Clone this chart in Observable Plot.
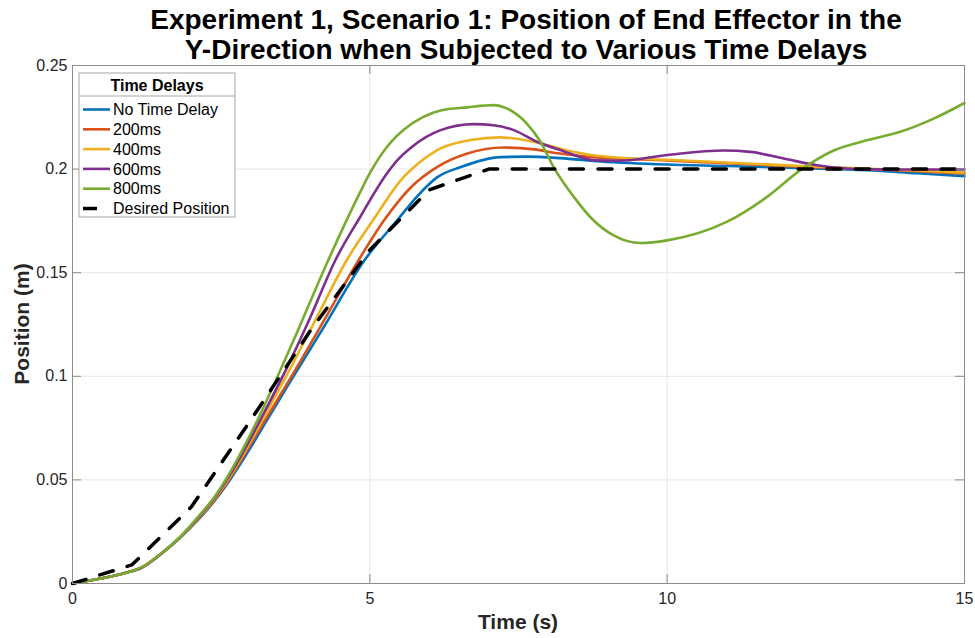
<!DOCTYPE html>
<html>
<head>
<meta charset="utf-8">
<script src="https://cdn.jsdelivr.net/npm/d3@7"></script>
<script src="https://cdn.jsdelivr.net/npm/@observablehq/plot@0.6"></script>
<style>
  body { margin: 0; background: #fff; }
  #chart svg { display: block; }
</style>
</head>
<body>
<div id="chart"></div>
<script>
// End-effector Y position (m) over time (s) for each communication delay.
const titleLines = [
  "Experiment 1, Scenario 1: Position of End Effector in the",
  "Y-Direction when Subjected to Various Time Delays"
];
const xLabel = "Time (s)";
const yLabel = "Position (m)";
const legendTitle = "Time Delays";

const xTicks = [0, 5, 10, 15];
const yTicks = [0, 0.05, 0.1, 0.15, 0.2, 0.25];

const seriesNames = ["No Time Delay", "200ms", "400ms", "600ms", "800ms"];
const seriesColors = ["#0072BD", "#D95319", "#EDB120", "#7E2F8E", "#77AC30"];
const desiredName = "Desired Position";

const tNoDelay = [0, 0.5, 1, 1.15, 1.5, 1.8, 2.1, 2.4, 2.66, 3.0, 3.22, 3.6, 4.2, 4.91, 5.46, 5.8, 6.13, 6.53, 7.2, 7.64, 8.2, 8.88, 10, 11, 12.24, 13.37, 14.2, 15];
const yNoDelay = [0, 0.0025, 0.006, 0.0075, 0.0145, 0.0218, 0.0303, 0.0403, 0.0506, 0.0658, 0.0765, 0.0945, 0.1225, 0.156, 0.1753, 0.187, 0.196, 0.201, 0.2058, 0.206, 0.2053, 0.2037, 0.2022, 0.2015, 0.2005, 0.1995, 0.198, 0.1966];

const t200 = [0, 0.5, 1, 1.15, 1.5, 1.8, 2.1, 2.4, 2.66, 3.0, 3.2, 3.7, 4.3, 4.81, 5.24, 5.7, 6.13, 6.64, 7.25, 7.76, 8.2, 8.76, 10, 11, 12.24, 13.37, 14.2, 15];
const y200 = [0, 0.0025, 0.006, 0.0075, 0.0145, 0.0219, 0.0307, 0.0408, 0.0514, 0.0674, 0.077, 0.1008, 0.1305, 0.156, 0.1753, 0.1915, 0.201, 0.2075, 0.2104, 0.2095, 0.2075, 0.2058, 0.2042, 0.2028, 0.2012, 0.2, 0.199, 0.1978];

const t400 = [0, 0.5, 1, 1.15, 1.5, 1.8, 2.1, 2.4, 2.66, 3.0, 3.2, 3.6, 4.1, 4.61, 5.07, 5.52, 5.85, 6.19, 6.69, 7.2, 7.75, 8.32, 8.76, 9.21, 10, 11, 12.24, 13.37, 14.2, 15];
const y400 = [0, 0.0025, 0.006, 0.0075, 0.0146, 0.022, 0.031, 0.0413, 0.0522, 0.0688, 0.0792, 0.1004, 0.128, 0.156, 0.176, 0.1946, 0.2035, 0.21, 0.214, 0.2153, 0.2132, 0.209, 0.2067, 0.2055, 0.2045, 0.2032, 0.2015, 0.2002, 0.1993, 0.1983];

const t600 = [0, 0.5, 1, 1.15, 1.5, 1.8, 2.1, 2.4, 2.66, 3.0, 3.2, 3.6, 4.0, 4.42, 4.84, 5.29, 5.48, 5.68, 5.95, 6.19, 6.75, 7.08, 7.42, 7.81, 8.2, 8.8, 9.2, 10, 10.95, 11.4, 11.96, 12.52, 13.37, 14.2, 15];
const y600 = [0, 0.0025, 0.006, 0.0075, 0.0146, 0.0221, 0.0313, 0.0418, 0.053, 0.0703, 0.0812, 0.1038, 0.1285, 0.156, 0.177, 0.198, 0.2048, 0.2101, 0.2155, 0.2188, 0.2217, 0.2212, 0.2188, 0.2132, 0.2092, 0.2042, 0.204, 0.2068, 0.209, 0.2083, 0.2051, 0.2019, 0.1999, 0.1998, 0.1998];

const t800 = [0, 0.5, 1, 1.15, 1.5, 1.8, 2.1, 2.38, 2.6, 2.88, 3.16, 3.45, 3.8, 4.3, 4.84, 5.0, 5.18, 5.37, 5.57, 5.9, 6.19, 6.64, 7.08, 7.3, 7.64, 7.87, 8.09, 8.43, 8.76, 9.1, 9.55, 10, 11, 11.68, 12.24, 12.8, 13.37, 13.92, 14.5, 15];
const y800 = [0, 0.0025, 0.006, 0.0077, 0.0147, 0.0222, 0.0318, 0.0415, 0.0512, 0.0657, 0.0818, 0.1, 0.1228, 0.156, 0.189, 0.198, 0.2065, 0.2135, 0.219, 0.2252, 0.2283, 0.2298, 0.2309, 0.2293, 0.222, 0.2132, 0.201, 0.1866, 0.1753, 0.168, 0.1643, 0.1656, 0.1745, 0.1866, 0.1995, 0.209, 0.214, 0.218, 0.2246, 0.2319];

// Reference trajectory: straight segments between waypoints
const tDesired = [0, 1, 2, 3, 4, 5, 6, 7, 15];
const yDesired = [0, 0.009, 0.037, 0.079, 0.122, 0.161, 0.19, 0.2, 0.2];

const seriesT = [tNoDelay, t200, t400, t600, t800];
const seriesY = [yNoDelay, y200, y400, y600, y800];

const toRows = (ts, ys) => ts.map((t, i) => ({t, y: ys[i]}));

const W = 975, H = 638;
const mL = 72, mR = 11, mT = 65, mB = 55;
const plotW = W - mL - mR, plotH = H - mT - mB;
const tickLen = 9;
const axisGray = "#8c8c8c";
const textColor = "#262626";
const font = "'Liberation Sans', Arial, Helvetica, sans-serif";

const lineMarks = seriesNames.map((name, i) =>
  Plot.line(toRows(seriesT[i], seriesY[i]), {
    x: "t", y: "y", stroke: seriesColors[i], strokeWidth: 2.6, curve: "monotone-x"
  })
);

const chart = Plot.plot({
  width: W,
  height: H,
  marginLeft: mL,
  marginRight: mR,
  marginTop: mT,
  marginBottom: mB,
  style: {fontFamily: font, background: "#fff"},
  x: {domain: [0, 15]},
  y: {domain: [0, 0.25]},
  marks: [
    Plot.gridX(xTicks, {stroke: "#e6e6e6", strokeOpacity: 1}),
    Plot.gridY(yTicks, {stroke: "#e6e6e6", strokeOpacity: 1}),
    ...lineMarks,
    Plot.line(toRows(tDesired, yDesired), {
      x: "t", y: "y", stroke: "#000", strokeWidth: 3.5, strokeDasharray: "14,14.6", curve: "linear"
    }),
    Plot.frame({stroke: axisGray}),
    Plot.tickX(xTicks, {x: d => d, stroke: axisGray, insetTop: plotH - tickLen}),
    Plot.tickX(xTicks, {x: d => d, stroke: axisGray, insetBottom: plotH - tickLen}),
    Plot.tickY(yTicks, {y: d => d, stroke: axisGray, insetRight: plotW - tickLen}),
    Plot.tickY(yTicks, {y: d => d, stroke: axisGray, insetLeft: plotW - tickLen}),
    Plot.axisX(xTicks, {tickSize: 0, tickPadding: 9, fontSize: 16, fill: textColor, label: null, tickFormat: d => String(d)}),
    Plot.axisY(yTicks, {tickSize: 0, tickPadding: 5, fontSize: 16, fill: textColor, label: null, tickFormat: d => String(d)})
  ]
});

const svg = d3.select(chart);

// Title
svg.append("g")
  .attr("font-family", font)
  .attr("font-weight", "bold")
  .attr("font-size", 28)
  .attr("fill", "#000")
  .attr("text-anchor", "middle")
  .selectAll("text")
  .data(titleLines)
  .join("text")
  .attr("x", 526)
  .attr("y", (d, i) => 29 + i * 30)
  .text(d => d);

// Axis labels
svg.append("text")
  .attr("font-family", font).attr("font-weight", "bold").attr("font-size", 21)
  .attr("fill", textColor).attr("text-anchor", "middle")
  .attr("x", mL + plotW / 2).attr("y", 629)
  .text(xLabel);

svg.append("text")
  .attr("font-family", font).attr("font-weight", "bold").attr("font-size", 21)
  .attr("fill", textColor).attr("text-anchor", "middle")
  .attr("transform", `translate(29,${mT + plotH / 2}) rotate(-90)`)
  .text(yLabel);

// Legend
const lg = svg.append("g").attr("font-family", font).attr("font-size", 16).attr("fill", "#000");
const lx = 79, ly = 73, lw = 156, lh = 144;
lg.append("rect").attr("x", lx).attr("y", ly).attr("width", lw).attr("height", lh)
  .attr("fill", "#fff").attr("stroke", "#a6a6a6").attr("stroke-width", 1);
lg.append("line").attr("x1", lx).attr("x2", lx + lw).attr("y1", 96).attr("y2", 96)
  .attr("stroke", "#a6a6a6").attr("stroke-width", 1);
lg.append("text").attr("x", lx + lw / 2).attr("y", 91).attr("text-anchor", "middle")
  .attr("font-weight", "bold").text(legendTitle);

const entries = seriesNames.map((n, i) => ({name: n, color: seriesColors[i], dashed: false}))
  .concat([{name: desiredName, color: "#000", dashed: true}]);
const rows = lg.selectAll("g.entry").data(entries).join("g")
  .attr("transform", (d, i) => `translate(0,${109.5 + i * 19.8})`);
rows.append("line")
  .attr("x1", 83).attr("x2", d => d.dashed ? 97 : 110)
  .attr("y1", 0).attr("y2", 0)
  .attr("stroke", d => d.color)
  .attr("stroke-width", d => d.dashed ? 3.5 : 2.6);
rows.append("text").attr("x", 113).attr("y", 5.7).attr("text-anchor", "start").text(d => d.name);

document.getElementById("chart").appendChild(chart);
</script>
</body>
</html>
